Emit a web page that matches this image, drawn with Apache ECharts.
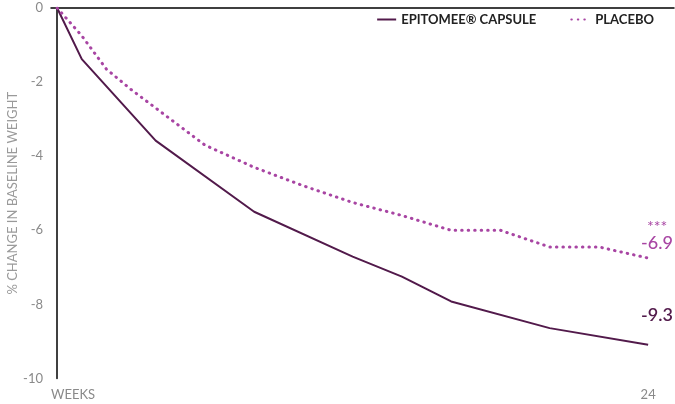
<!DOCTYPE html>
<html>
<head>
<meta charset="utf-8">
<script src="https://cdn.jsdelivr.net/npm/echarts@6/dist/echarts.min.js"></script>
<style>html,body{margin:0;padding:0;background:#fff;}#c{width:675px;height:404px;}</style>
</head>
<body>
<div id="c"></div>
<script>
var weeksDrug = [0, 1, 4, 8, 12, 14, 16, 20, 24];
var drugValues = [0, -1.38, -3.58, -5.5, -6.71, -7.25, -7.92, -8.64, -9.09];
var weeksPlacebo = [0, 1, 2, 3, 4, 6, 8, 10, 12, 14, 16, 18, 20, 22, 24];
var placeboValues = [0, -0.75, -1.65, -2.2, -2.7, -3.7, -4.3, -4.8, -5.25, -5.6, -6.0, -6.0, -6.45, -6.45, -6.75];
var seriesNames = ['EPITOMEE\u00ae CAPSULE', 'PLACEBO'];
var endLabels = ['-9.3', '-6.9'];
var significance = '***';
var xTickLabels = ['WEEKS', '24'];
var yAxisTitle = '% CHANGE IN BASELINE WEIGHT';

var drugColor = '#521a4b';
var placeboColor = '#a845a3';
var font = 'Lato, "Open Sans", sans-serif';

function pairs(xs, ys) { return xs.map(function (x, i) { return [x, ys[i]]; }); }

var chart = echarts.init(document.getElementById('c'), null, { renderer: 'canvas' });
chart.setOption({
  animation: false,
  textStyle: { fontFamily: font },
  grid: { left: 51, right: 1, top: 8, bottom: 25.5, containLabel: false, outerBoundsMode: 'none' },
  legend: {
    right: 16, top: 8, itemWidth: 19, itemHeight: 12, itemGap: 34,
    itemStyle: { opacity: 0 },
    textStyle: { fontFamily: font, fontSize: 13, fontWeight: 'bold', color: '#222' },
    data: seriesNames
  },
  xAxis: {
    type: 'value', min: -0.25, max: 25.05,
    axisLine: { show: true, lineStyle: { color: '#000', width: 1.5 } },
    axisTick: { show: false },
    splitLine: { show: false },
    axisLabel: {
      customValues: [-0.25, 24],
      alignMinLabel: 'left',
      margin: 10,
      color: '#8a8a8a', fontSize: 13, fontFamily: font,
      formatter: function (v) { return v < 0 ? xTickLabels[0] : xTickLabels[1]; }
    }
  },
  yAxis: {
    type: 'value', min: -10, max: 0, interval: 2,
    name: yAxisTitle, nameLocation: 'middle', nameGap: 32, nameRotate: 90,
    nameMoveOverlap: false,
    nameTextStyle: { color: '#9a9a9a', fontSize: 13, fontFamily: font },
    axisLine: { show: true, lineStyle: { color: '#000', width: 1.5 } },
    axisTick: { show: false },
    splitLine: { show: false },
    axisLabel: { color: '#8a8a8a', fontSize: 13, margin: 8, fontFamily: font }
  },
  series: [
    {
      name: seriesNames[0], type: 'line', data: pairs(weeksDrug, drugValues),
      symbol: 'none', color: drugColor,
      lineStyle: { color: drugColor, width: 2 }
    },
    {
      name: seriesNames[1], type: 'line', data: pairs(weeksPlacebo, placeboValues),
      symbol: 'none', color: placeboColor,
      lineStyle: { color: placeboColor, width: 3, type: [0.5, 6], cap: 'round' }
    }
  ],
  graphic: [
    { type: 'text', left: 647, top: 219, style: { text: significance, fill: placeboColor, font: '16px ' + font } },
    { type: 'text', left: 641, top: 234, style: { text: endLabels[1], fill: placeboColor, font: '500 18px ' + font } },
    { type: 'text', left: 641, top: 306, style: { text: endLabels[0], fill: drugColor, font: '600 18px ' + font } }
  ]
});
</script>
</body>
</html>
